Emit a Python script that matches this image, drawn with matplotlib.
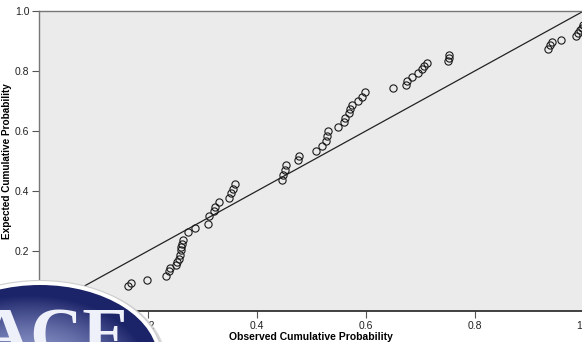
import numpy as np
import matplotlib
matplotlib.use("Agg")
import matplotlib.pyplot as plt
from matplotlib.patches import Ellipse

plt.rcParams['font.family'] = ['Liberation Sans', 'DejaVu Sans']

# Observed vs expected cumulative probabilities (P-P plot)
observed = [0.163, 0.169, 0.198, 0.234, 0.239, 0.241, 0.252, 0.254, 0.257, 0.258,
            0.260, 0.261, 0.262, 0.264, 0.274, 0.286, 0.311, 0.312, 0.321, 0.324,
            0.331, 0.349, 0.352, 0.356, 0.360,
            0.446, 0.448, 0.452, 0.454, 0.475, 0.478, 0.509, 0.520, 0.526, 0.528,
            0.530, 0.549, 0.560, 0.561, 0.570, 0.571, 0.574, 0.586, 0.593, 0.599,
            0.649, 0.673, 0.675, 0.684, 0.695, 0.704, 0.706, 0.712,
            0.750, 0.752, 0.753, 0.934, 0.939, 0.941, 0.959, 0.986, 0.990, 0.994,
            0.997, 0.999]
expected = [0.082, 0.094, 0.102, 0.116, 0.135, 0.144, 0.152, 0.163, 0.175, 0.188,
            0.202, 0.213, 0.224, 0.238, 0.263, 0.276, 0.289, 0.317, 0.332, 0.346,
            0.362, 0.376, 0.393, 0.407, 0.424,
            0.438, 0.455, 0.469, 0.486, 0.503, 0.518, 0.535, 0.549, 0.568, 0.582,
            0.599, 0.613, 0.630, 0.644, 0.659, 0.674, 0.688, 0.700, 0.715, 0.729,
            0.743, 0.755, 0.768, 0.780, 0.793, 0.805, 0.817, 0.826,
            0.834, 0.844, 0.855, 0.874, 0.888, 0.898, 0.905, 0.918, 0.927, 0.936,
            0.945, 0.955]
ticks = [0.0, 0.2, 0.4, 0.6, 0.8, 1.0]
x_tick_labels = ["", "0.2", "0.4", "0.6", "0.8", "1.0"]
y_tick_labels = ["", "0.2", "0.4", "0.6", "0.8", "1.0"]

W, H = 582, 342
fig = plt.figure(figsize=(W / 100, H / 100), dpi=100)
fig.patch.set_facecolor("white")

ax = fig.add_axes([39 / W, 1 - 311 / H, (583.7 - 39) / W, 300 / H])
ax.set_facecolor("#ebebeb")
ax.set_xlim(0, 1)
ax.set_ylim(0, 1)

# reference diagonal
ax.plot([0, 1], [0, 1], color="#222222", lw=0.9, zorder=2)
ax.plot(observed, expected, linestyle="none", marker="o", markersize=5.2,
        markerfacecolor="none", markeredgecolor="#1a1a1a", markeredgewidth=0.8,
        zorder=3, clip_on=False)

ax.set_xticks(ticks)
ax.set_xticklabels(x_tick_labels)
ax.set_yticks(ticks)
ax.set_yticklabels(y_tick_labels)
ax.tick_params(direction="out", length=5, width=0.8, color="#555555",
               labelsize=7.5, labelcolor="#222222", pad=2)
for side in ["left", "top", "right"]:
    ax.spines[side].set_color("#777777")
    ax.spines[side].set_linewidth(1.0)
ax.spines["bottom"].set_color("#222222")
ax.spines["bottom"].set_linewidth(1.2)

ax.set_xlabel("Observed Cumulative Probability", fontsize=7.5, fontweight="bold",
              labelpad=1)
ax.set_ylabel("Expected Cumulative Probability", fontsize=7.2, fontweight="bold")
ax.yaxis.set_label_coords(-0.049, 0.50)

# emblem overlay in the lower-left corner (pixel coordinates)
ov = fig.add_axes([0, 0, 1, 1], zorder=10)
ov.set_xlim(0, W)
ov.set_ylim(H, 0)
ov.axis("off")
ov.patch.set_alpha(0)

cx, cy, a, b = 40, 360, 118, 75
ov.add_patch(Ellipse((cx + 2, cy + 2), 2 * a + 12, 2 * b + 12, facecolor="#bdbdbd",
                     edgecolor="none", alpha=0.6))
ov.add_patch(Ellipse((cx, cy), 2 * a + 9, 2 * b + 9, facecolor="white",
                     edgecolor="#cfcfcf", lw=0.8))
clip = Ellipse((cx, cy), 2 * a, 2 * b, facecolor="none", edgecolor="none")
ov.add_patch(clip)

gx = np.linspace(cx - a, cx + a, 300)
gy = np.linspace(cy - b, cy + b, 200)
GX, GY = np.meshgrid(gx, gy)
r = np.sqrt(((GX - cx + 10) / a) ** 2 + ((GY - cy - 10) / b) ** 2)
r = np.clip(r, 0, 1)
inner = np.array([150, 160, 210]) / 255
outer = np.array([28, 36, 105]) / 255
t = r ** 1.6
img = inner[None, None, :] * (1 - t[..., None]) + outer[None, None, :] * t[..., None]
im = ov.imshow(img, extent=[cx - a, cx + a, cy + b, cy - b], origin="upper",
               interpolation="bilinear", zorder=11)
im.set_clip_path(clip)

ov.text(-22, 358, "ACE", fontsize=52, fontweight="bold",
        family=["Liberation Serif", "DejaVu Serif"], color="#eef0fa",
        ha="left", va="baseline", zorder=12)

fig.savefig("out.png", dpi=100, facecolor="white")
